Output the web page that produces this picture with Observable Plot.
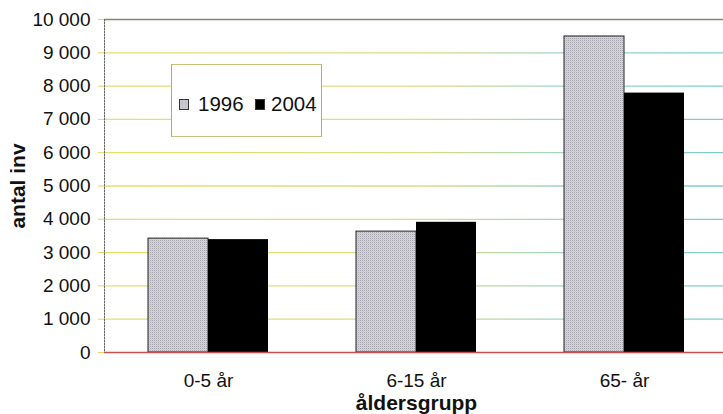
<!DOCTYPE html>
<html><head><meta charset="utf-8">
<script src="https://cdn.jsdelivr.net/npm/d3@7"></script>
<script src="https://cdn.jsdelivr.net/npm/@observablehq/plot@0.6"></script>
<style>
body{margin:0;background:#fff;font-family:"Liberation Sans",Arial,sans-serif;}
#wrap{position:relative;width:723px;height:414px;overflow:hidden;}
#legend{position:absolute;left:171px;top:64px;width:151px;height:73px;border:1px solid #c9c27a;border-left-color:#a8a8a0;border-right-color:#a8a8a0;background:#fff;box-sizing:border-box;font-size:20.5px;color:#111;}
#legend .sw{position:absolute;width:10px;height:11px;border:1px solid #333;box-sizing:border-box;}
#legend .lb{position:absolute;line-height:20px;}
</style></head><body><div id="wrap"></div>
<script>
const groups = ["0-5 år", "6-15 år", "65- år"];
const years = ["1996", "2004"];
const values1996 = [3420, 3630, 9490];
const values2004 = [3390, 3910, 7790];
const yTicks = [0, 1000, 2000, 3000, 4000, 5000, 6000, 7000, 8000, 9000, 10000];

const rows1996 = groups.map((g, i) => ({group: g, year: years[0], value: values1996[i]}));
const rows2004 = groups.map((g, i) => ({group: g, year: years[1], value: values2004[i]}));
const fmt = d => d3.format(",")(d).replace(/,/g, " ");

const chart = Plot.plot({
  width: 723, height: 414,
  marginLeft: 104, marginRight: -5, marginTop: 19, marginBottom: 62,
  style: {fontFamily: "Liberation Sans, Arial, sans-serif", fontSize: "19px", background: "transparent", color: "#111"},
  x: {domain: groups, paddingInner: 0.423, paddingOuter: 0.2115},
  y: {domain: [0, 10000]},
  marks: [
    Plot.ruleY(yTicks.filter(d => d > 0 && d < 10000), {stroke: "url(#gridgrad)", strokeWidth: 1.3}),
    Plot.ruleY([10000], {stroke: "#8a8668", strokeWidth: 1.6}),
    Plot.barY(rows1996, {x: "group", y: "value", fill: "url(#stip)", stroke: "#222", strokeWidth: 1, insetRight: 60}),
    Plot.barY(rows2004, {x: "group", y: "value", fill: "#000", insetLeft: 60}),
    Plot.frame({anchor: "left", stroke: "#666", strokeDasharray: "1.5,1.5"}),
    Plot.ruleY([0], {stroke: "#c85050", strokeWidth: 1.3}),
    Plot.axisY({ticks: yTicks, tickFormat: fmt, tickSize: 6, tickPadding: 8, stroke: "#e0d860",
      label: "antal inv", labelAnchor: "center", labelArrow: "none", labelOffset: 94}),
    Plot.axisX({tickSize: 0, tickPadding: 21, label: "åldersgrupp", labelAnchor: "center", labelArrow: "none", labelOffset: 57})
  ]
});

const svg = d3.select(chart);
svg.selectAll('[aria-label="x-axis tick label"] text, [aria-label="y-axis tick label"] text')
  .style("font-size", "19px");
svg.selectAll('[aria-label="x-axis label"] text, [aria-label="y-axis label"] text')
  .style("font-size", "21px").style("font-weight", "bold");

svg.insert("defs", ":first-child").html(`
  <pattern id="stip" width="2" height="2" patternUnits="userSpaceOnUse">
    <rect width="2" height="2" fill="#d8d6dc"/>
    <rect width="1" height="1" fill="#a6a4ac"/>
    <rect x="1" y="1" width="1" height="1" fill="#c4cdbf"/>
  </pattern>
  <linearGradient id="gridgrad" gradientUnits="userSpaceOnUse" x1="104" y1="0" x2="723" y2="0">
    <stop offset="0" stop-color="#e6df6a"/>
    <stop offset="0.5" stop-color="#dcdc80"/>
    <stop offset="0.75" stop-color="#9cd4c4"/>
    <stop offset="1" stop-color="#7ccccc"/>
  </linearGradient>`);

const wrap = document.getElementById("wrap");
wrap.appendChild(chart);

const legend = document.createElement("div");
legend.id = "legend";
const items = [
  {label: years[0], bg: "#c8c6cc", sx: 7, tx: 26},
  {label: years[1], bg: "#000", sx: 83, tx: 99}
];
items.forEach(it => {
  const sw = document.createElement("div");
  sw.className = "sw";
  sw.style.left = it.sx + "px"; sw.style.top = "34px";
  sw.style.background = it.bg;
  legend.appendChild(sw);
  const lb = document.createElement("div");
  lb.className = "lb";
  lb.style.left = it.tx + "px"; lb.style.top = "29px";
  lb.textContent = it.label;
  legend.appendChild(lb);
});
wrap.appendChild(legend);
</script>
</body></html>
